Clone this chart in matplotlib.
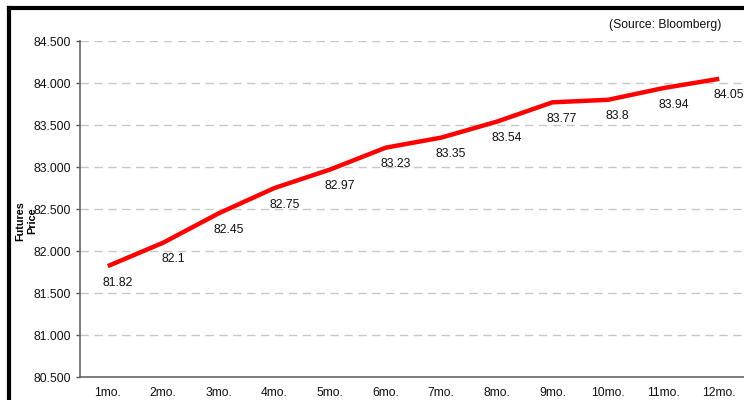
import matplotlib.pyplot as plt
from matplotlib.lines import Line2D

plt.rcParams['font.family'] = ['Liberation Sans', 'DejaVu Sans']

months = ['1mo.', '2mo.', '3mo.', '4mo.', '5mo.', '6mo.',
          '7mo.', '8mo.', '9mo.', '10mo.', '11mo.', '12mo.']
prices = [81.82, 82.1, 82.45, 82.75, 82.97, 83.23,
          83.35, 83.54, 83.77, 83.8, 83.94, 84.05]
labels = ['81.82', '82.1', '82.45', '82.75', '82.97', '83.23',
          '83.35', '83.54', '83.77', '83.8', '83.94', '84.05']
yticks = [80.5, 81.0, 81.5, 82.0, 82.5, 83.0, 83.5, 84.0, 84.5]

fig = plt.figure(figsize=(7.44, 4.0), dpi=100)
ax = fig.add_axes([80 / 744, 23 / 400, 667 / 744, 336 / 400])

x = list(range(1, len(months) + 1))
ax.plot(x, prices, color='#ff0000', lw=3.2, solid_capstyle='butt', zorder=3)

for xi, p, lab in zip(x, prices, labels):
    ax.annotate(lab, (xi, p), xytext=(7, -12), textcoords='offset points',
                ha='center', va='center', fontsize=8.7, color='#111111')

ax.set_xlim(0.5, 12.5)
ax.set_ylim(80.5, 84.5)
ax.set_xticks(x)
ax.set_xticklabels(months)
ax.set_yticks(yticks)
ax.set_yticklabels([f'{v:.3f}' for v in yticks])
ax.tick_params(axis='x', length=0, pad=7, labelsize=8.7, labelcolor='#111111')
ax.tick_params(axis='y', length=3, width=1, color='#555555', pad=3.5,
               labelsize=8.7, labelcolor='#111111')

for yv in yticks[1:]:
    ax.axhline(yv, color='#c8c8c8', lw=1, dashes=(6, 4), zorder=1)

for side in ['top', 'right']:
    ax.spines[side].set_visible(False)
for side in ['left', 'bottom']:
    ax.spines[side].set_color('#666666')
    ax.spines[side].set_linewidth(1.2)

fig.text(26 / 744, 1 - 221 / 400, 'Futures\nPrice', rotation=90, ha='center',
         va='center', fontsize=7.8, fontweight='bold', linespacing=1.25)
fig.text(665 / 744, 1 - 25 / 400, '(Source: Bloomberg)', ha='center',
         va='center', fontsize=8.7, color='#111111')

# thick outer frame (left and top edges)
fig.add_artist(Line2D([9 / 744, 9 / 744], [0, 1 - 7.5 / 400], color='black',
                      lw=3, transform=fig.transFigure, solid_capstyle='projecting'))
fig.add_artist(Line2D([9 / 744, 1], [1 - 7.5 / 400, 1 - 7.5 / 400], color='black',
                      lw=3, transform=fig.transFigure, solid_capstyle='projecting'))

fig.savefig('out.png', dpi=100)
